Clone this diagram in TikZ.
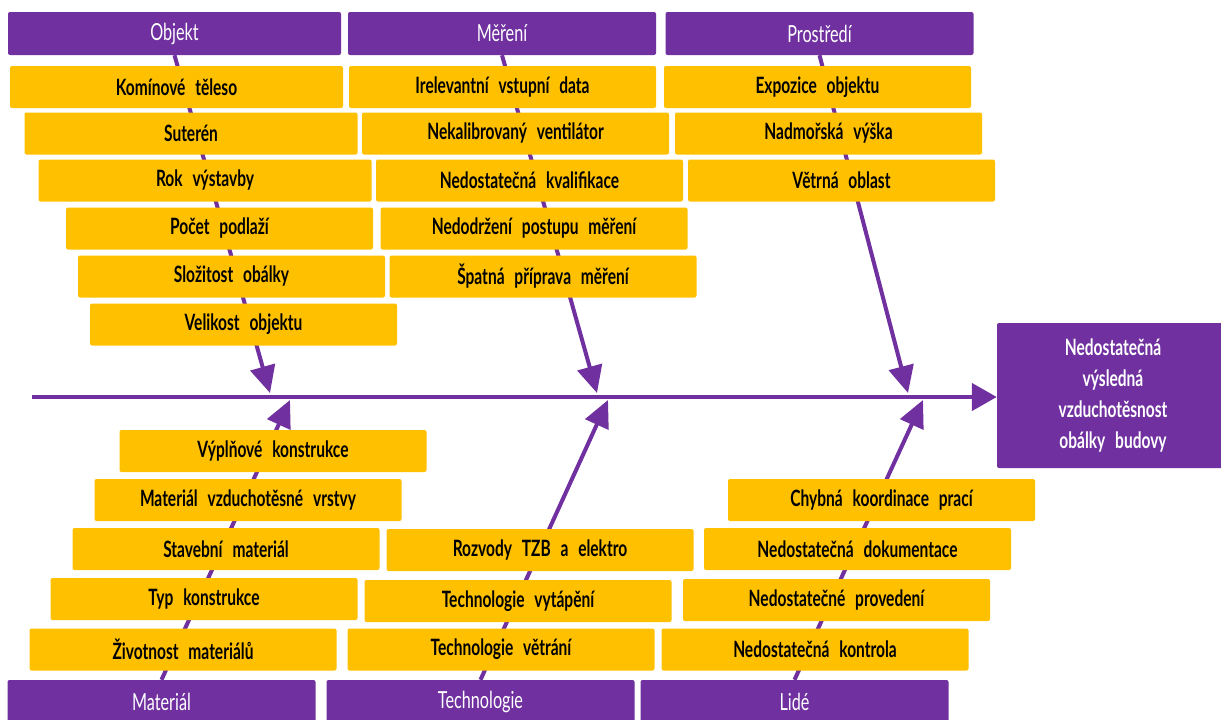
\documentclass[tikz,border=0pt]{standalone}
\usepackage{fontspec}
\setmainfont{Lato}[FakeStretch=0.69, WordSpace=2.6]
\usetikzlibrary{arrows.meta}
\definecolor{fbpurple}{HTML}{7030A0}
\definecolor{fbgold}{HTML}{FFC000}
\pgfdeclarelayer{bg}
\pgfsetlayers{bg,main}
\begin{document}
\begin{tikzpicture}[x=1pt,y=-1pt,
  cat/.style={fill=fbpurple, rounded corners=2pt, inner sep=0pt, text=white,
    minimum width=308pt, minimum height=43pt, font=\fontsize{23.5}{28}\selectfont},
  cause/.style={fill=fbgold, rounded corners=2pt, inner sep=0pt, text=black,
    minimum width=307pt, minimum height=42pt, font=\bfseries\fontsize{22.5}{26}\selectfont},
  wide/.style={minimum width=333pt},
  effectbox/.style={fill=fbpurple, rounded corners=2pt, inner sep=0pt, text=white,
    minimum width=232pt, minimum height=145pt, align=center,
    font=\bfseries\fontsize{22.5}{31}\selectfont},
  bone/.style={draw=fbpurple, line width=4pt, -{Triangle[length=27pt,width=25pt]}},
  spine/.style={draw=fbpurple, line width=4.5pt, -{Triangle[length=25pt,width=27pt]}}]
\useasboundingbox (0,0) rectangle (1221,720);
\begin{scope}
\clip (0,0) rectangle (1221,720);
% headers
\node[cat, wide] (objekt) at (174.5,33.5) {Objekt};
\node[cat] (mereni) at (502,33.5) {Měření};
\node[cat] (prostredi) at (819.5,33.5) {Prostředí};
\node[cat] (material) at (161.5,701.5) {Materiál};
\node[cat] (technologie) at (480.5,701.5) {Technologie};
\node[cat] (lide) at (794.5,701.5) {Lidé};
% Objekt causes
\node[cause, wide] (o1) at (176.5,87) {Komínové těleso};
\node[cause, wide] (o2) at (191,133.5) {Suterén};
\node[cause, wide] (o3) at (205,180.5) {Rok výstavby};
\node[cause] (o4) at (219.5,228.5) {Počet podlaží};
\node[cause] (o5) at (231.5,276.5) {Složitost obálky};
\node[cause] (o6) at (243.5,324.5) {Velikost objektu};
% Měření causes
\node[cause] (m1) at (502.5,87) {Irelevantní vstupní data};
\node[cause] (m2) at (515.5,133.5) {Nekalibrovaný ventilátor};
\node[cause] (m3) at (529.5,180.5) {Nedostatečná kvalifikace};
\node[cause] (m4) at (534,228.5) {Nedodržení postupu měření};
\node[cause] (m5) at (543,276.5) {Špatná příprava měření};
% Prostředí causes
\node[cause] (p1) at (817.5,87) {Expozice objektu};
\node[cause] (p2) at (828.5,133.5) {Nadmořská výška};
\node[cause] (p3) at (841.5,180.5) {Větrná oblast};
% Materiál causes
\node[cause] (a1) at (273,451) {Výplňové konstrukce};
\node[cause] (a2) at (248,500) {Materiál vzduchotěsné vrstvy};
\node[cause] (a3) at (226,549) {Stavební materiál};
\node[cause] (a4) at (204,599) {Typ konstrukce};
\node[cause] (a5) at (183,649.5) {Životnost materiálů};
% Technologie causes
\node[cause] (t1) at (540,550) {Rozvody TZB a elektro};
\node[cause] (t2) at (518,601) {Technologie vytápění};
\node[cause] (t3) at (501,649.5) {Technologie větrání};
% Lidé causes
\node[cause] (l1) at (881.5,500) {Chybná koordinace prací};
\node[cause] (l2) at (857.5,549) {Nedostatečná dokumentace};
\node[cause] (l3) at (836.5,600) {Nedostatečné provedení};
\node[cause] (l4) at (815,649.5) {Nedostatečná kontrola};
% effect
\node[effectbox] (effect) at (1113,395.5) {Nedostatečná\\výsledná\\vzduchotěsnost\\obálky budovy};
% spine and tips
\coordinate (s0) at (32,397);
\coordinate (tipO) at (270,393);
\coordinate (tipM) at (597,393);
\coordinate (tipP) at (908,393);
\coordinate (tipA) at (290,400);
\coordinate (tipT) at (608,400);
\coordinate (tipL) at (923,400);
\begin{pgfonlayer}{bg}
\draw[bone] (objekt.south) -- (tipO);
\draw[bone] (mereni.south) -- (tipM);
\draw[bone] (prostredi.south) -- (tipP);
\draw[bone] (material.north) -- (tipA);
\draw[bone] (technologie.north) -- (tipT);
\draw[bone] (lide.north) -- (tipL);
\end{pgfonlayer}
\draw[spine] (s0) -- (s0 -| effect.west);
\end{scope}
\end{tikzpicture}
\end{document}
